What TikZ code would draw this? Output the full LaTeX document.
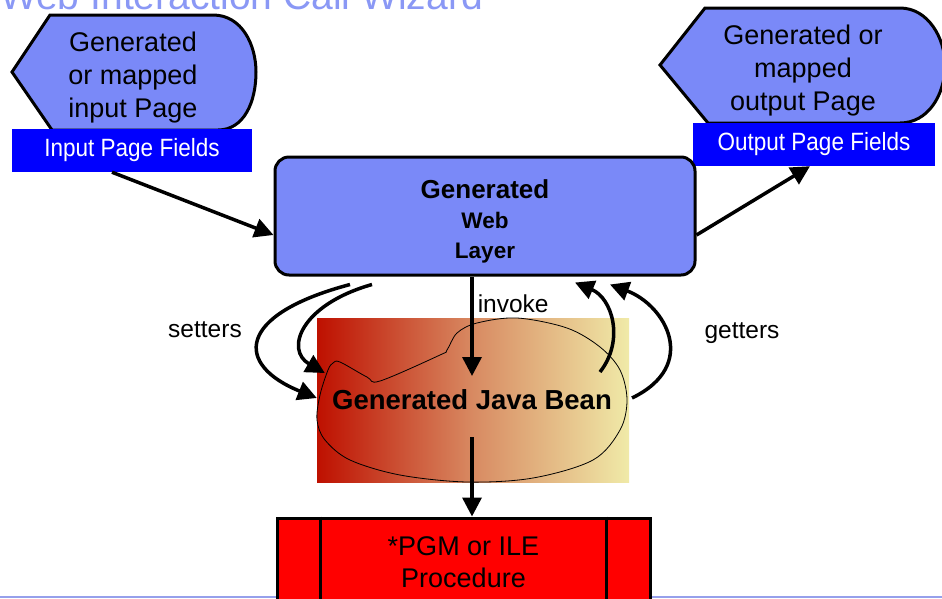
\documentclass[tikz,border=0pt]{standalone}
\usepackage{fontspec}
\setmainfont{Liberation Sans}
\usetikzlibrary{arrows.meta}
\definecolor{pagecol}{RGB}{122,137,248}
\definecolor{titlecol}{RGB}{138,152,245}
\definecolor{beanleft}{RGB}{190,16,0}
\definecolor{beanmid}{RGB}{216,138,98}
\definecolor{beanright}{RGB}{240,234,168}
\definecolor{footcol}{RGB}{150,160,235}
\newcommand{\fieldtext}[1]{\scalebox{0.9}[1]{#1}}
\tikzset{
  flow/.style={line width=3.5pt, -{Triangle[length=19pt,width=19pt]}},
  fieldbox/.style={fill=blue, text=white, minimum height=43pt, inner sep=0pt, font=\fontsize{25}{28}\selectfont},
  pagetext/.style={font=\fontsize{27}{33}\selectfont, align=center, inner sep=0pt},
  labeltext/.style={font=\fontsize{24.5}{28}\selectfont, inner sep=0pt},
}
\begin{document}
\begin{tikzpicture}[x=1pt,y=-1pt]
\clip (0,0) rectangle (942,598);
\node[anchor=base west, text=titlecol, font=\fontsize{39}{46}\selectfont, inner sep=0pt] (title) at (0,9) {Web Interaction Call Wizard};

\filldraw[fill=pagecol, draw=black, line width=3pt] (12,72) -- (50,15) -- (213,15) .. controls (242,15) and (256,45) .. (256,72) .. controls (256,102) and (244,130) .. (218,130) -- (52,130) -- cycle;
\node[pagetext] (inpage) at (133,78) {Generated\\or mapped\\input Page};
\node[fieldbox, minimum width=240pt] (infields) at (132,150.5) {\fieldtext{Input Page Fields}};

\filldraw[fill=pagecol, draw=black, line width=3pt] (660,65) -- (705,8) -- (900,8) .. controls (928,8) and (945,38) .. (945,65) .. controls (945,95) and (928,123) .. (900,123) -- (708,123) -- cycle;
\node[pagetext] (outpage) at (803,71) {Generated or\\mapped\\output Page};
\node[fieldbox, minimum width=242pt] (outfields) at (814,144.5) {\fieldtext{Output Page Fields}};

\node[fill=pagecol, draw=black, line width=3pt, rounded corners=14pt, minimum width=420pt, minimum height=118pt] (web) at (485,216) {};
\node[align=center, font=\bfseries\fontsize{22.5}{30}\selectfont, inner sep=0pt] (webtext) at (485,221) {{\fontsize{26}{30}\selectfont Generated}\\Web\\Layer};

\node[minimum width=312pt, minimum height=164pt, left color=beanleft, right color=beanright, middle color=beanmid, font=\bfseries\fontsize{27.5}{32}\selectfont, inner sep=0pt] (bean) at (473,400) {\hspace*{-2pt}Generated Java Bean};
\draw[line width=0.8pt] plot[smooth cycle, tension=0.55] coordinates {(333,363) (340,362) (367,377) (380,381) (440,355) (447,350) (457,333) (477,323) (517,318) (567,328) (600,347) (620,370) (627,400) (620,430) (593,460) (533,478) (467,482) (400,475) (350,460) (325,440) (317,420) (320,395) (328,370)};

\draw[color=footcol, line width=2pt] (0,597) -- (942,597);
\node[fill=red, draw=black, line width=3pt, minimum width=373pt, minimum height=88pt, align=center, font=\fontsize{27}{32}\selectfont, inner sep=0pt] (pgm) at (463.5,562) {*PGM or ILE\\Procedure};
\draw[line width=3pt] ([xshift=45pt]pgm.north west) -- ([xshift=45pt]pgm.south west);
\draw[line width=3pt] ([xshift=-45pt]pgm.north east) -- ([xshift=-45pt]pgm.south east);

\draw[flow] ([xshift=-20pt]infields.south) -- ([yshift=-19pt]web.west);
\draw[flow] ([yshift=-19pt]web.east) -- ([xshift=-4pt]outfields.south);
\draw[flow] ([xshift=-13pt]web.south) -- node[pos=0.27, anchor=west, labeltext, xshift=4pt] {invoke} ([xshift=-1pt,yshift=24pt]bean.center);
\draw[flow] ([xshift=-1pt,yshift=-37pt]bean.center) -- ([xshift=8.5pt]pgm.north);

\draw[flow] ([xshift=-135pt,yshift=-8pt]web.south) .. controls (235,315) and (235,365) .. ([yshift=2pt]bean.west);
\draw[flow] ([xshift=-113pt,yshift=-8pt]web.south) .. controls (300,305) and (285,350) .. ([xshift=8pt,yshift=27pt]bean.west);
\draw[flow] ([xshift=127pt,yshift=28pt]bean.center) .. controls (625,340) and (612,298) .. ([xshift=90pt,yshift=-6pt]web.south);
\draw[flow] ([xshift=159pt,yshift=2pt]bean.center) .. controls (700,365) and (665,305) .. ([xshift=125pt,yshift=-8pt]web.south);

\node[labeltext] (setters) at (205,330) {setters};
\node[labeltext] (getters) at (742,333) {getters};
\end{tikzpicture}
\end{document}
